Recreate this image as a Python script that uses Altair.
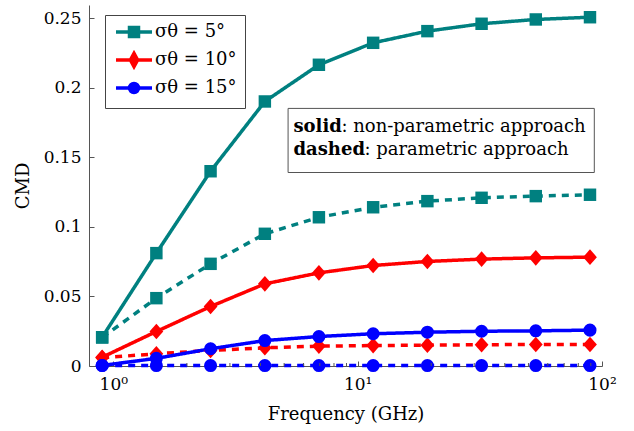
import altair as alt
import pandas as pd

# ---------------- data ----------------
freq = [0.9, 1.5, 2.5, 4.17, 6.94, 11.57, 19.29, 32.15, 53.58, 89.3]
series_labels = ["σθ = 5°", "σθ = 10°", "σθ = 15°"]
approaches = ["non-parametric", "parametric"]

cmd_5_solid = [0.0207, 0.0812, 0.1401, 0.1903, 0.2167, 0.2325, 0.2409, 0.2462, 0.2493, 0.2509]
cmd_5_dashed = [0.0205, 0.0488, 0.0735, 0.0951, 0.1070, 0.1142, 0.1186, 0.1210, 0.1222, 0.1232]
cmd_10_solid = [0.0063, 0.0248, 0.0428, 0.0591, 0.0670, 0.0723, 0.0752, 0.0769, 0.0778, 0.0783]
cmd_10_dashed = [0.0059, 0.0088, 0.0112, 0.0131, 0.0143, 0.0147, 0.0150, 0.0153, 0.0155, 0.0155]
cmd_15_solid = [0.0004, 0.0055, 0.0124, 0.0183, 0.0212, 0.0232, 0.0243, 0.0250, 0.0253, 0.0258]
cmd_15_dashed = [0.0003, 0.0003, 0.0003, 0.0003, 0.0003, 0.0003, 0.0003, 0.0003, 0.0003, 0.0003]

x_major_ticks = [1, 10, 100]
x_minor_ticks = [2, 3, 4, 5, 6, 7, 8, 9, 20, 30, 40, 50, 60, 70, 80, 90]
y_ticks = [0, 0.05, 0.1, 0.15, 0.2, 0.25]

note_bold = ["solid"]
note_bold2 = ["dashed"]
note_rest = [": non-parametric approach"]
note_rest2 = [": parametric approach"]

series_values = {
    (series_labels[0], approaches[0]): cmd_5_solid,
    (series_labels[0], approaches[1]): cmd_5_dashed,
    (series_labels[1], approaches[0]): cmd_10_solid,
    (series_labels[1], approaches[1]): cmd_10_dashed,
    (series_labels[2], approaches[0]): cmd_15_solid,
    (series_labels[2], approaches[1]): cmd_15_dashed,
}
rows = []
for (s, a), vals in series_values.items():
    for f, v in zip(freq, vals):
        rows.append({"freq": f, "cmd": v, "series": s, "approach": a})
df = pd.DataFrame(rows)

# ---------------- styles ----------------
FONT = "DejaVu Serif"
AXIS_COLOR = "#555555"
colors = ["#008080", "#ff0000", "#0000ff"]
marker_shapes = ["square", "M0,-1L0.88,0L0,1L-0.88,0Z", "circle"]
marker_sizes = [155, 245, 170]
legend_paths = [
    "M-3,0H3M-0.75,-0.75H0.75V0.75H-0.75Z",
    "M-3,0H3M0,-1.1L0.6,0L0,1.1L-0.6,0Z",
    "M-3,0H3M0.75,0A0.75,0.75,0,1,1,-0.75,0A0.75,0.75,0,1,1,0.75,0Z",
]

x_scale = alt.Scale(type="log", domain=[0.795, 100], nice=False)
y_scale = alt.Scale(domain=[0, 0.2597], nice=False, zero=False)

x_axis = alt.Axis(
    orient="bottom", values=x_major_ticks,
    labelExpr="datum.value == 1 ? '10⁰' : (datum.value == 10 ? '10¹' : '10²')",
    tickSize={"expr": "-5"}, labelPadding=15, grid=False,
    domainColor=AXIS_COLOR, tickColor=AXIS_COLOR, domainWidth=1, tickWidth=1,
    labelFont=FONT, labelFontSize=17, labelColor="black", labelFlush=False,
    title="Frequency (GHz)", titleFont=FONT, titleFontSize=18,
    titleFontWeight="normal", titleColor="black", titlePadding=13,
)
y_axis = alt.Axis(
    orient="left", values=y_ticks, format=".2~f",
    tickSize={"expr": "-5"}, labelPadding=13, grid=False,
    domainColor=AXIS_COLOR, tickColor=AXIS_COLOR, domainWidth=1, tickWidth=1,
    labelFont=FONT, labelFontSize=17, labelColor="black",
    title="CMD", titleFont=FONT, titleFontSize=18, titleFontWeight="normal",
    titleColor="black", titlePadding=11,
)

X = alt.X("freq:Q", scale=x_scale, axis=x_axis)
Y = alt.Y("cmd:Q", scale=y_scale, axis=y_axis)

legend = alt.Legend(title=None, orient="none", legendX=16, legendY=10)

base = alt.Chart(df)

line_layers = []
point_layers = []
for s, col, shp, sz in zip(series_labels, colors, marker_shapes, marker_sizes):
    sub = base.transform_filter(alt.datum.series == s)
    line_layers.append(
        sub.mark_line(strokeWidth=3.5, color=col).encode(
            x=X, y=Y,
            strokeDash=alt.StrokeDash(
                "approach:N",
                scale=alt.Scale(domain=approaches, range=[[1, 0], [7, 6]]),
                legend=None,
            ),
        )
    )
    point_layers.append(
        sub.mark_point(filled=True, shape=shp, size=sz, opacity=1, color=col).encode(
            x=X, y=Y,
        )
    )

legend_layer = base.mark_point(filled=True).encode(
    x=X, y=Y,
    fill=alt.Fill("series:N", scale=alt.Scale(domain=series_labels, range=colors), legend=legend),
    stroke=alt.Stroke("series:N", scale=alt.Scale(domain=series_labels, range=colors), legend=legend),
    shape=alt.Shape("series:N", scale=alt.Scale(domain=series_labels, range=legend_paths), legend=legend),
    opacity=alt.value(0),
)

# minor ticks on the logarithmic axis
minor_df = pd.DataFrame({"freq": x_minor_ticks})
minor = alt.Chart(minor_df).mark_rule(color=AXIS_COLOR, strokeWidth=1).encode(
    x=X, y=alt.value(361), y2=alt.value(358),
)

# annotation box (in data coordinates)
box_df = pd.DataFrame({"freq": [5.19], "freq2": [93.0], "cmd": [0.1392], "cmd2": [0.1853]})
box = alt.Chart(box_df).mark_rect(fill="white", stroke=AXIS_COLOR, strokeWidth=1).encode(
    x=X, x2="freq2:Q", y=Y, y2="cmd2:Q",
)

def note(texts, yval, bold, dx):
    d = pd.DataFrame({"freq": [5.46], "cmd": [yval], "t": texts})
    return alt.Chart(d).mark_text(
        align="left", baseline="alphabetic", font=FONT, fontSize=18,
        fontWeight="bold" if bold else "normal", color="black", dx=dx,
    ).encode(x=X, y=Y, text="t:N")

notes = [
    note(note_bold, 0.1682, True, 0),
    note(note_rest, 0.1682, False, 48),
    note(note_bold2, 0.1519, True, 0),
    note(note_rest2, 0.1519, False, 71),
]

chart = (
    alt.layer(*line_layers, *point_layers, legend_layer, minor, box, *notes)
    .properties(
        width=513, height=361,
        autosize=alt.AutoSizeParams(type="none"),
        padding={"left": 89, "top": 5, "right": 32, "bottom": 65},
    )
    .configure_view(stroke=None)
    .configure_axis(labelFont=FONT, titleFont=FONT)
    .configure_legend(
        symbolOpacity=1, symbolSize=144, symbolStrokeWidth=3.5,
        symbolOffset=12, labelOffset=12, symbolFillColor="white",
        labelFont=FONT, labelFontSize=18, labelColor="black",
        padding=8, rowPadding=2, fillColor="white", strokeColor="#444444",
        cornerRadius=0, strokeWidth=1,
    )
)

chart.save("out.html", embed_options={"renderer": "svg", "actions": False})
